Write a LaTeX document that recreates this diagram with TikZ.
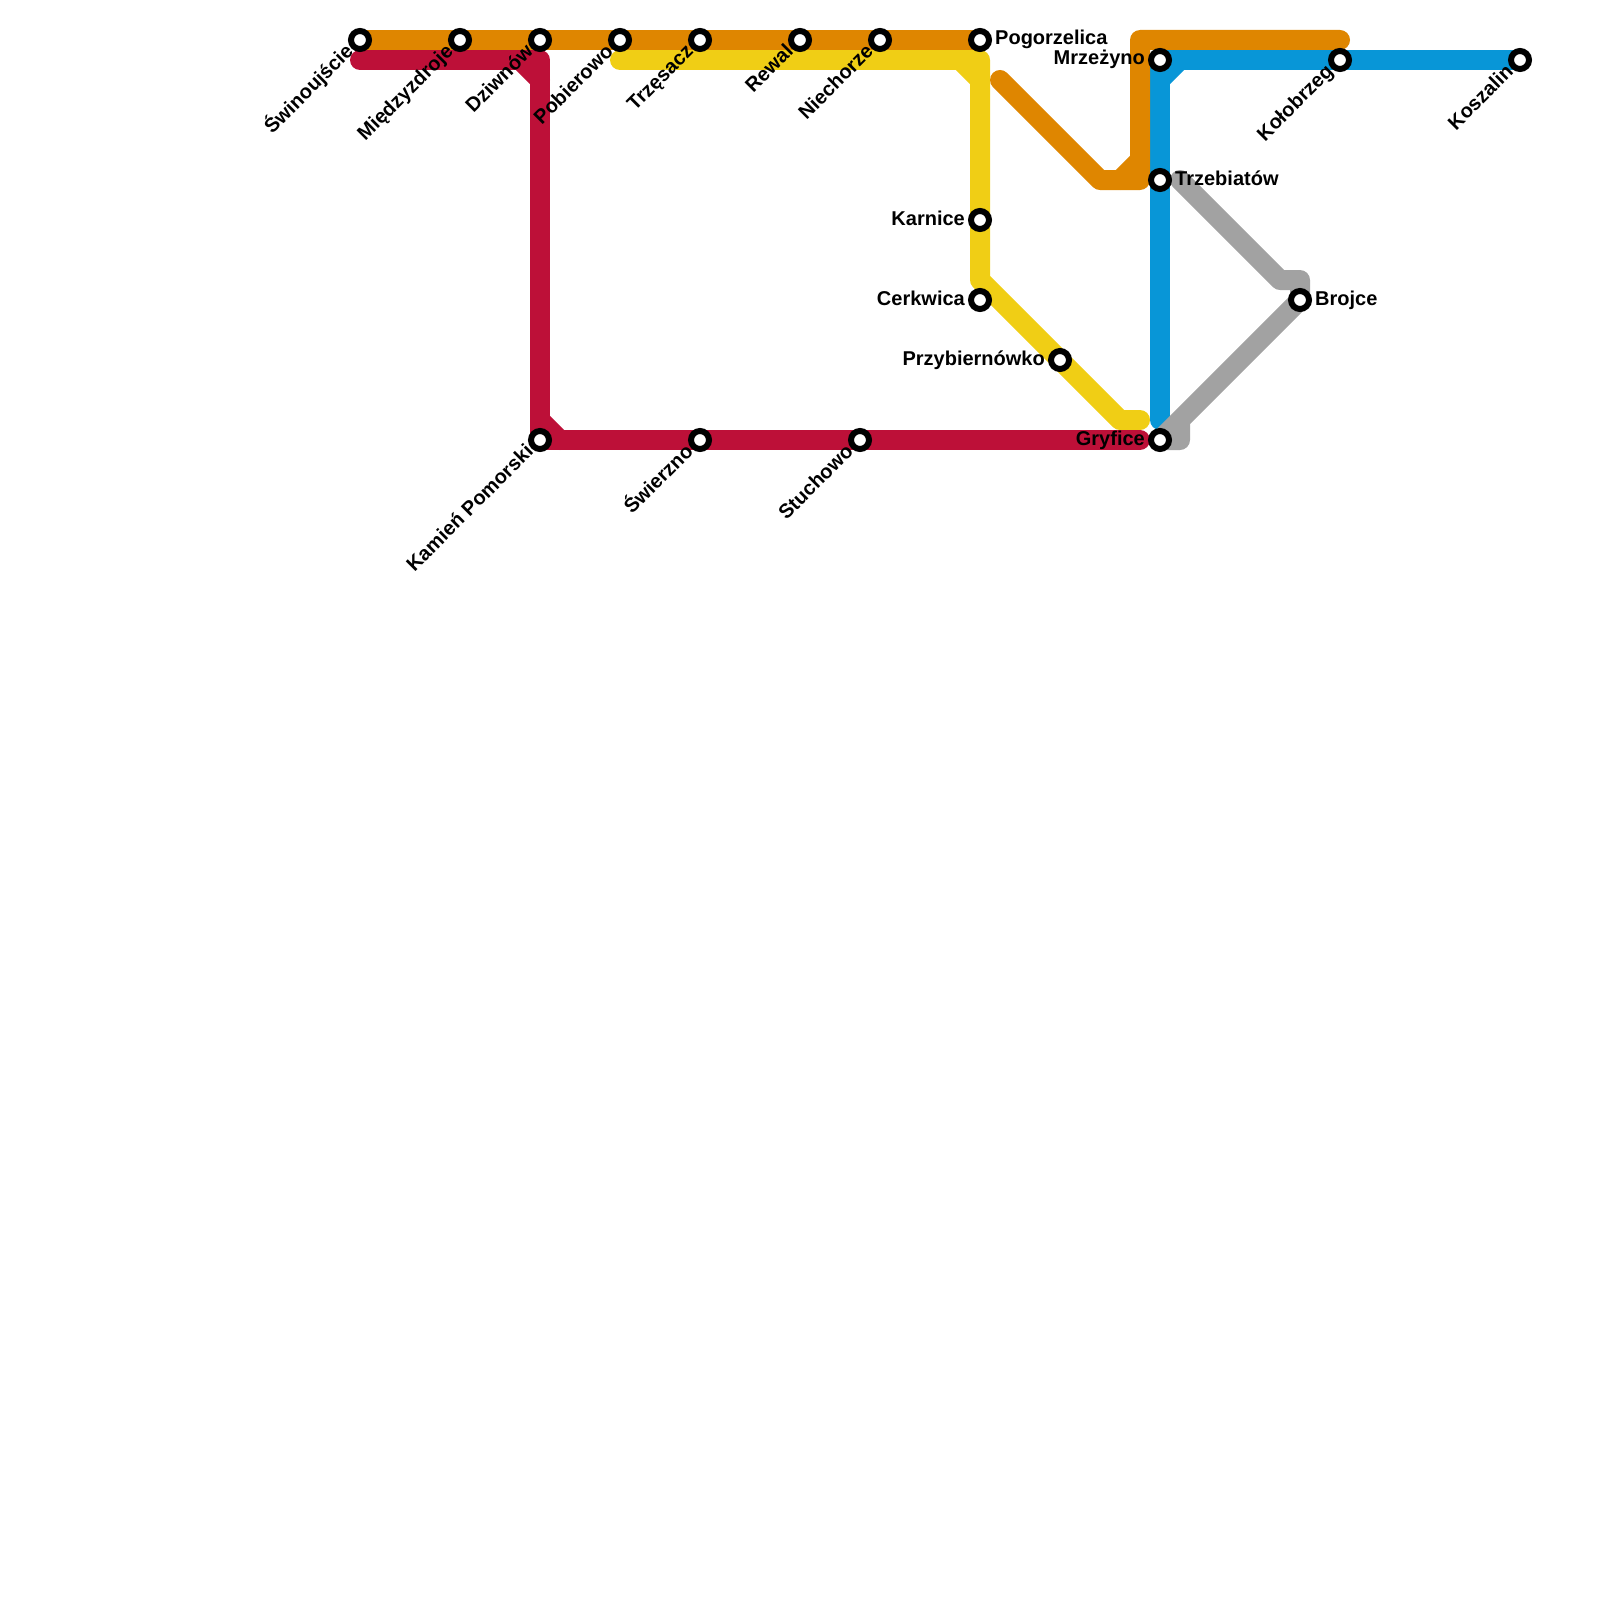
\documentclass[tikz,border=0pt]{standalone}
\usepackage{fontspec}
\setmainfont{Liberation Sans}
\usetikzlibrary{backgrounds,positioning}
\definecolor{lineorange}{HTML}{DF8600}
\definecolor{linered}{HTML}{BD1038}
\definecolor{lineyellow}{HTML}{F0CE15}
\definecolor{lineblue}{HTML}{0896D7}
\definecolor{linegray}{HTML}{A2A2A2}

\begin{document}
\begin{tikzpicture}[
  x=1pt, y=-1pt,
  station/.style={circle, draw=black, fill=white, line width=6pt, minimum size=18pt, inner sep=0pt, outer sep=0pt},
  metroline/.style={line width=20pt, line cap=round, line join=round},
  stationname/.style={font=\bfseries\fontsize{20}{20}\selectfont, inner sep=0pt, text height=14.5pt, text depth=4.5pt},
  nameright/.style={stationname, right=6pt of #1},
  nameleft/.style={stationname, left=6pt of #1},
  namerot/.style={stationname, below left=0pt and 0pt of #1, anchor=east, rotate=45, xshift=-4pt}
]
\useasboundingbox (0,0) rectangle (1600,1600);
% stations
\node[station] (swino) at (360,40) {};
\node[station] (miedzy) at (460,40) {};
\node[station] (dziwnow) at (540,40) {};
\node[station] (pobier) at (620,40) {};
\node[station] (trzesacz) at (700,40) {};
\node[station] (rewal) at (800,40) {};
\node[station] (niech) at (880,40) {};
\node[station] (pogorz) at (980,40) {};
\node[station] (karnice) at (980,220) {};
\node[station] (cerkw) at (980,300) {};
\node[station] (przyb) at (1060,360) {};
\node[station] (mrzez) at (1160,60) {};
\node[station] (trzeb) at (1160,180) {};
\node[station] (gryf) at (1160,440) {};
\node[station] (brojce) at (1300,300) {};
\node[station] (kolob) at (1340,60) {};
\node[station] (kosz) at (1520,60) {};
\node[station] (kamien) at (540,440) {};
\node[station] (swierz) at (700,440) {};
\node[station] (stuch) at (860,440) {};
% names
\node[namerot=swino] (swinoname) {Świnoujście};
\node[namerot=miedzy] (miedzyname) {Międzyzdroje};
\node[namerot=dziwnow] (dziwnowname) {Dziwnów};
\node[namerot=pobier] (pobiername) {Pobierowo};
\node[namerot=trzesacz] (trzesaczname) {Trzęsacz};
\node[namerot=rewal] (rewalname) {Rewal};
\node[namerot=niech] (niechname) {Niechorze};
\node[nameright=pogorz] (pogorzname) {Pogorzelica};
\node[nameleft=karnice] (karnicename) {Karnice};
\node[nameleft=cerkw] (cerkwname) {Cerkwica};
\node[nameleft=przyb] (przybname) {Przybiernówko};
\node[nameleft=mrzez] (mrzezname) {Mrzeżyno};
\node[nameright=trzeb] (trzebname) {Trzebiatów};
\node[nameleft=gryf] (gryfname) {Gryfice};
\node[nameright=brojce] (brojcename) {Brojce};
\node[namerot=kolob] (kolobname) {Kołobrzeg};
\node[namerot=kosz] (koszname) {Koszalin};
\node[namerot=kamien] (kamienname) {Kamień Pomorski};
\node[namerot=swierz] (swierzname) {Świerzno};
\node[namerot=stuch] (stuchname) {Stuchowo};
% bends
\coordinate (o1) at (1000,80);
\coordinate (o2) at (1100,180);
\coordinate (o3) at (1140,180);
\coordinate (o4) at (1120,180);
\coordinate (o5) at (1140,160);
\coordinate (o6) at (1140,40);
\coordinate (o7) at (1340,40);
\coordinate (r1) at (360,60);
\coordinate (r2) at (540,60);
\coordinate (r3) at (520,60);
\coordinate (r4) at (540,80);
\coordinate (r5) at (540,420);
\coordinate (r6) at (560,440);
\coordinate (r7) at (1140,440);
\coordinate (y1) at (620,60);
\coordinate (y2) at (980,60);
\coordinate (y3) at (960,60);
\coordinate (y4) at (980,80);
\coordinate (y5) at (980,280);
\coordinate (y6) at (1120,420);
\coordinate (y7) at (1140,420);
\coordinate (b1) at (1160,80);
\coordinate (b2) at (1180,60);
\coordinate (b3) at (1160,420);
\coordinate (g0) at (1180,180);
\coordinate (g1) at (1280,280);
\coordinate (g2) at (1300,280);
\coordinate (g3) at (1180,440);
\coordinate (g4) at (1180,420);
\begin{scope}[on background layer]
\draw[metroline, lineyellow] (y1) -- (y2) -- (y5) -- (y6) -- (y7);
\draw[metroline, lineyellow] (y3) -- (y4);
\draw[metroline, lineblue] (mrzez.center) -- (kosz.center);
\draw[metroline, lineblue] (mrzez.center) -- (b3);
\draw[metroline, lineblue] (b1) -- (b2);
\draw[metroline, linegray] (g0) -- (g1) -- (g2) -- (brojce.center) -- (gryf.center) -- (g3) -- (g4);
\draw[metroline, lineorange] (swino.center) -- (pogorz.center);
\draw[metroline, lineorange] (o1) -- (o2) -- (o3) -- (o6) -- (o7);
\draw[metroline, lineorange] (o4) -- (o5);
\draw[metroline, linered] (r1) -- (r2) -- (kamien.center) -- (r7);
\draw[metroline, linered] (r3) -- (r4);
\draw[metroline, linered] (r5) -- (r6);
\end{scope}
\end{tikzpicture}
\end{document}
